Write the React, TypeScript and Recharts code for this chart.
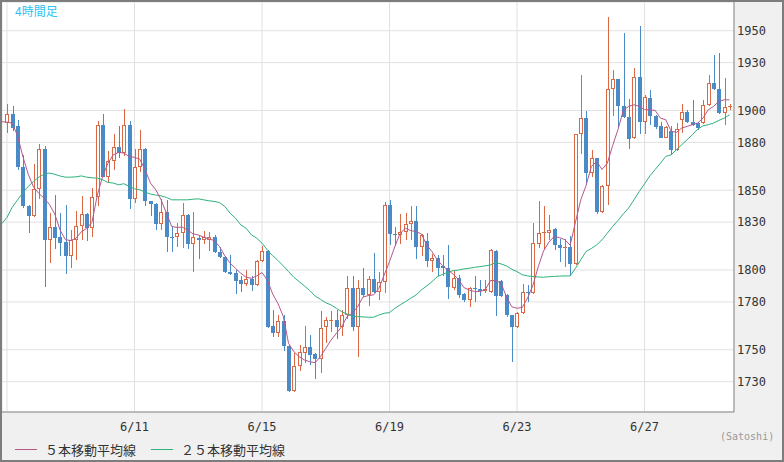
import React from "react";
import { ComposedChart, Bar, Line, XAxis, YAxis, CartesianGrid } from "recharts";

// 4h candles, index 0 = 6/7 00:00, 6 candles per day
const opens = [
  1892, 1898, 1890, 1864.5, 1840, 1834, 1850.5, 1876, 1819, 1827,
  1820.5, 1817.5, 1809, 1819, 1827.5, 1835, 1826.5, 1845.5, 1891, 1858.5,
  1868.5, 1877, 1873.5, 1891, 1844.5, 1864.5, 1876, 1843, 1841.5, 1829,
  1836.5, 1821, 1820.5, 1823, 1834.5, 1816, 1820, 1819, 1819, 1820.5,
  1811, 1808, 1798.5, 1798, 1793.5, 1791.5, 1794.5, 1790.5, 1805.5, 1812,
  1765, 1760.5, 1768, 1752.5, 1724, 1740, 1748, 1751.5, 1747.5, 1744.5,
  1764, 1768, 1768.5, 1764.5, 1772, 1789, 1764, 1788.5, 1784.5, 1794.5,
  1786, 1792.5, 1840.5, 1822.5, 1822, 1824, 1829, 1830.5, 1814.5, 1818.5,
  1805.5, 1807.5, 1802.5, 1801.5, 1788.5, 1795, 1785, 1781, 1789, 1788,
  1787, 1786.5, 1812, 1793, 1784.5, 1771.5, 1764, 1773, 1786, 1785.5,
  1816, 1823, 1823.5, 1825.5, 1815.5, 1813.5, 1814.5, 1804, 1885, 1895,
  1861, 1870, 1836.5, 1852.5, 1913.5, 1919.5, 1902.5, 1896, 1882.5, 1921,
  1892.5, 1908, 1896.5, 1890, 1883, 1887, 1875, 1894, 1899, 1892.5,
  1892, 1892, 1903.5, 1917, 1913.5, 1898.5, 1902,
];
const highs = [
  1904, 1903, 1894, 1872, 1841, 1866.5, 1879, 1878, 1835.5, 1847,
  1835.5, 1841, 1825, 1837, 1846.5, 1835.5, 1851.5, 1893.5, 1898, 1874.5,
  1885.5, 1890.5, 1901, 1893.5, 1876, 1888, 1876.5, 1843.5, 1842, 1844.5,
  1844, 1827.5, 1829.5, 1842, 1835, 1836.5, 1821.5, 1824.5, 1824, 1822,
  1814.5, 1808.5, 1809.5, 1800, 1796, 1800, 1796, 1806, 1815, 1812.5,
  1775, 1771.5, 1772, 1753, 1748, 1753, 1765, 1759.5, 1748, 1774.5,
  1770.5, 1774.5, 1775, 1775, 1796.5, 1796.5, 1794, 1801, 1796, 1810.5,
  1798.5, 1842.5, 1844, 1827, 1835, 1835.5, 1840, 1840, 1822.5, 1823,
  1810, 1809.5, 1809.5, 1815.5, 1800, 1797, 1785.5, 1789.5, 1796.5, 1794,
  1794, 1813, 1812.5, 1794, 1785, 1772, 1773.5, 1791.5, 1790.5, 1829.5,
  1843.5, 1840, 1834.5, 1826.5, 1819.5, 1819.5, 1821.5, 1885.5, 1922, 1899.5,
  1875.5, 1870.5, 1853, 1958.5, 1925.5, 1920, 1948.5, 1907, 1926.5, 1953,
  1910, 1913, 1897, 1893, 1890.5, 1890, 1892, 1904, 1900, 1906.5,
  1892.5, 1906.5, 1922.5, 1935, 1936, 1920.5, 1904,
];
const lows = [
  1886, 1887, 1863, 1839, 1823.5, 1833, 1844.5, 1789.5, 1804.5, 1813,
  1808.5, 1797.5, 1801.5, 1806.5, 1819, 1818, 1821, 1840, 1858, 1854.5,
  1862.5, 1870.5, 1871.5, 1838, 1842, 1861.5, 1840, 1834, 1825, 1825,
  1811.5, 1811.5, 1814.5, 1814, 1813, 1798.5, 1807, 1816, 1812, 1810.5,
  1807.5, 1798, 1797, 1785, 1786.5, 1790, 1787, 1790, 1805, 1763.5,
  1758, 1758, 1749, 1723.5, 1723.5, 1737, 1742, 1740.5, 1731.5, 1735.5,
  1754, 1761, 1757, 1758.5, 1769.5, 1761.5, 1745.5, 1783, 1777.5, 1785.5,
  1781, 1785.5, 1815.5, 1815, 1816.5, 1819, 1819, 1807, 1809, 1802,
  1798.5, 1796, 1796, 1782, 1787.5, 1782.5, 1780, 1777, 1780, 1784,
  1785.5, 1785.5, 1771, 1783, 1770.5, 1742.5, 1763.5, 1772.5, 1780, 1785,
  1814, 1812.5, 1819, 1812.5, 1805, 1802, 1796.5, 1803, 1873, 1853.5,
  1858.5, 1835, 1836, 1841, 1896.5, 1889, 1895, 1876, 1882, 1885,
  1885, 1891, 1888.5, 1882.5, 1882.5, 1872, 1874.5, 1886, 1892, 1890.5,
  1887.5, 1891.5, 1902.5, 1913, 1898, 1891, 1900.5,
];
const closes = [
  1898, 1889, 1864.5, 1840, 1834, 1850.5, 1876, 1819, 1827, 1820,
  1817, 1809, 1819, 1827.5, 1835, 1826.5, 1845.5, 1891, 1858.5, 1868.5,
  1877, 1873.5, 1891, 1844.5, 1864.5, 1876, 1843, 1841.5, 1829, 1836.5,
  1820.5, 1820.5, 1823, 1834.5, 1816, 1820.5, 1819, 1820.5, 1820.5, 1811,
  1808, 1798.5, 1797.5, 1793, 1791.5, 1794.5, 1790.5, 1805.5, 1812, 1764.5,
  1760.5, 1768, 1752.5, 1724, 1740, 1748.5, 1751.5, 1747, 1744.5, 1763.5,
  1768.5, 1768.5, 1764.5, 1772, 1789, 1764, 1788.5, 1784.5, 1794.5, 1786,
  1792.5, 1840.5, 1822.5, 1822, 1824, 1829, 1830.5, 1814.5, 1822, 1805.5,
  1807.5, 1801.5, 1801, 1789.5, 1795, 1784.5, 1781, 1788.5, 1788, 1787,
  1788, 1812.5, 1784, 1784, 1771.5, 1764, 1773, 1786, 1785.5, 1817,
  1823.5, 1824, 1825, 1815.5, 1813.5, 1814.5, 1804, 1885, 1895, 1861,
  1870, 1836.5, 1852.5, 1913.5, 1919.5, 1902.5, 1896, 1882, 1921, 1892.5,
  1908.5, 1896.5, 1889.5, 1883, 1889.5, 1875, 1888.5, 1899, 1892.5, 1891,
  1889, 1903.5, 1917, 1913.5, 1898.5, 1902, 1902.5,
];

// moving averages, starting one slot before the first candle
const ma5 = [
  1893, 1892.7, 1892, 1884, 1871, 1860, 1852, 1848, 1845, 1841,
  1835, 1825, 1819, 1818.5, 1820, 1824, 1826, 1830, 1847, 1858.6,
  1867, 1872.2, 1873.7, 1873.3, 1871.2, 1870.6, 1869.5, 1862.8, 1854.5, 1850.3,
  1844, 1835.7, 1827.3, 1826.7, 1826.9, 1825, 1822.7, 1822, 1820.6, 1819.5,
  1818.5, 1814.7, 1808.9, 1804.3, 1801.1, 1798, 1795.5, 1794.8, 1796.3, 1798.4,
  1793.8, 1785, 1779, 1771, 1754, 1748.8, 1745.7, 1743.6, 1742.5, 1741.9,
  1745.7, 1750.9, 1756.1, 1760.3, 1764.5, 1770.8, 1772.9, 1777, 1783, 1784,
  1784.4, 1788.5, 1796.9, 1805.3, 1814.7, 1823, 1826.2, 1824.7, 1824.1, 1822.6,
  1815.7, 1811.5, 1806.3, 1802.6, 1800, 1797.3, 1794, 1789, 1787.5, 1786.5,
  1786.5, 1787.5, 1793.4, 1793.4, 1791.7, 1783.3, 1777, 1776, 1776.6, 1782.5,
  1790.5, 1802.1, 1812, 1817.5, 1821, 1820.3, 1819, 1815.5, 1830, 1844,
  1853, 1865, 1868, 1863, 1867, 1878, 1888, 1900, 1902.6, 1903.6,
  1902.6, 1900.5, 1900.5, 1900, 1895.2, 1894.2, 1887, 1886.3, 1889, 1890,
  1891.1, 1892.1, 1895.2, 1900.5, 1902.6, 1905.7, 1906.7, 1906.7,
];
const ma25 = [
  1829, 1833, 1839.4, 1844, 1848.6, 1852.4, 1855.5, 1858.2, 1860.1, 1860.8,
  1860, 1858.9, 1858.2, 1858.2, 1858.4, 1859, 1858.2, 1857.8, 1857.6, 1856.6,
  1854.9, 1854.5, 1853.4, 1854.1, 1852.4, 1850.9, 1850.3, 1848.8, 1847.6, 1847,
  1846.5, 1845.5, 1844, 1844, 1844, 1844, 1844.4, 1844.6, 1844, 1843.4,
  1843, 1842.3, 1839.8, 1835.6, 1832.5, 1828.3, 1826.2, 1822, 1820, 1816.8,
  1812.6, 1809, 1806, 1802.6, 1799, 1795.4, 1792.7, 1790, 1787.1, 1783.7,
  1781.6, 1779.5, 1778.1, 1776, 1773.9, 1772.4, 1771.2, 1770.8, 1770.6, 1770.4,
  1770.4, 1771.8, 1772.9, 1773.3, 1776, 1778.1, 1780.2, 1782.3, 1784.4, 1787.5,
  1790, 1792.7, 1795.9, 1797.3, 1798.6, 1799.6, 1800, 1800.7, 1801.1, 1801.7,
  1802.1, 1802.6, 1803.2, 1804.7, 1803.8, 1802.6, 1800.5, 1799, 1797, 1796.3,
  1795.9, 1795.6, 1795.5, 1795.8, 1796, 1796.2, 1796.3, 1796.3, 1801.1, 1806.4,
  1811.6, 1813.5, 1815.8, 1818.9, 1823.1, 1827.3, 1831, 1835.2, 1838.8, 1844,
  1849.2, 1854, 1859, 1863, 1867, 1871.2, 1872.2, 1875.4, 1878.5, 1881.6,
  1884.8, 1888.3, 1890.4, 1891.1, 1892.1, 1893.8, 1895.2, 1897.3,
];

const xTickIdx = [0, 24, 48, 72, 96, 120];
const xTickLabels = ["6/7", "6/11", "6/15", "6/19", "6/23", "6/27"];
const yTicks = [1730, 1750, 1780, 1800, 1830, 1850, 1880, 1900, 1930, 1950];

const UP = "#dc6843";
const DOWN = "#4a8ac6";
const MA5_COLOR = "#b5578b";
const MA25_COLOR = "#2eb27b";
const MONO = "'DejaVu Sans Mono', monospace";
const JP = "'Noto Sans CJK JP', sans-serif";

const rows = ma5.map((m, k) => {
  const i = k - 1;
  const row: any = { i, ma5: m, ma25: ma25[k] };
  if (i >= 0) {
    row.open = opens[i];
    row.high = highs[i];
    row.low = lows[i];
    row.close = closes[i];
  }
  return row;
});

const Candle = (props: any) => {
  const { x, y, width, height, payload } = props;
  if (!payload || payload.high == null || !(height > 0)) return <g />;
  const { open, close, high, low } = payload;
  const k = height / (high - low);
  const py = (v: number) => Math.round(y + (high - v) * k);
  const cx = Math.round(x + width / 2);
  const wx = cx + 0.5;
  const yTop = py(Math.max(open, close));
  const yBot = py(Math.min(open, close));
  const yHi = py(high);
  const yLo = py(low);
  if (close >= open) {
    if (yBot - yTop <= 1) {
      return (
        <g>
          <line x1={wx} x2={wx} y1={yHi} y2={yLo} stroke={UP} />
          <line x1={cx - 2} x2={cx + 2} y1={yTop + 0.5} y2={yTop + 0.5} stroke={UP} />
        </g>
      );
    }
    return (
      <g>
        <line x1={wx} x2={wx} y1={yHi} y2={yTop} stroke={UP} />
        <line x1={wx} x2={wx} y1={yBot} y2={yLo} stroke={UP} />
        <rect x={cx - 1.5} y={yTop + 0.5} width={3} height={yBot - yTop - 1} fill="#fff" stroke={UP} />
      </g>
    );
  }
  return (
    <g>
      <line x1={wx} x2={wx} y1={yHi} y2={yLo} stroke={DOWN} />
      <rect x={cx - 2} y={yTop} width={4} height={Math.max(yBot - yTop, 1)} fill={DOWN} />
    </g>
  );
};

const XTick = (props: any) => {
  const { x, y, payload } = props;
  const k = xTickIdx.indexOf(payload.value);
  // the first date sits on the plot edge and is not labelled
  if (k <= 0) return <g />;
  return (
    <text x={x} y={y + 17} textAnchor="middle" fill="#333" fontSize={12} fontFamily={MONO}>
      {xTickLabels[k]}
    </text>
  );
};

const legendItems = [
  { label: "５本移動平均線", color: MA5_COLOR, left: 15 },
  { label: "２５本移動平均線", color: MA25_COLOR, left: 151 },
];

export default function App() {
  return (
    <div style={{ position: "absolute", left: 0, top: 0, width: 784, height: 462, background: "#f0f0f0", overflow: "hidden" }}>
      <ComposedChart width={784} height={462} data={rows} margin={{ top: 2, right: 2, bottom: 0, left: 2 }}>
        <CartesianGrid stroke="#e1e1e1" fill="#ffffff" />
        <XAxis
          dataKey="i"
          type="number"
          domain={[-0.94, 136.84]}
          allowDataOverflow
          ticks={xTickIdx}
          interval={0}
          tick={<XTick />}
          tickLine={false}
          tickSize={0}
          axisLine={{ stroke: "#8a8a8a" }}
          height={50}
        />
        <YAxis
          orientation="right"
          type="number"
          domain={[1711, 1968]}
          allowDataOverflow
          ticks={yTicks}
          interval={0}
          width={48}
          tickLine={false}
          tickSize={0}
          tickMargin={3}
          axisLine={{ stroke: "#8a8a8a" }}
          tick={{ fill: "#333", fontSize: 12, fontFamily: MONO }}
        />
        <Bar
          dataKey={(d: any) => (d.high == null ? null : [d.low, d.high])}
          barSize={4}
          shape={<Candle />}
          isAnimationActive={false}
        />
        <Line type="linear" dataKey="ma25" stroke={MA25_COLOR} strokeWidth={1} dot={false} isAnimationActive={false} />
        <Line type="linear" dataKey="ma5" stroke={MA5_COLOR} strokeWidth={1} dot={false} isAnimationActive={false} />
      </ComposedChart>

      <div style={{ position: "absolute", left: 15, top: 2, fontSize: 12, color: "#2cc3f2", fontFamily: JP }}>4時間足</div>

      {legendItems.map((it) => (
        <div
          key={it.label}
          style={{ position: "absolute", left: it.left, top: 440, height: 18, display: "flex", alignItems: "center", fontFamily: JP, fontSize: 13, color: "#333" }}
        >
          <span style={{ display: "inline-block", width: 22, height: 1, background: it.color, marginRight: 8 }} />
          <span>{it.label}</span>
        </div>
      ))}

      <div style={{ position: "absolute", left: 720, top: 431, fontSize: 10, color: "#999", fontFamily: MONO }}>(Satoshi)</div>

      <div style={{ position: "absolute", left: 0, top: 0, width: 784, height: 462, boxSizing: "border-box", border: "2px solid #7d7d7d", pointerEvents: "none" }} />
    </div>
  );
}
